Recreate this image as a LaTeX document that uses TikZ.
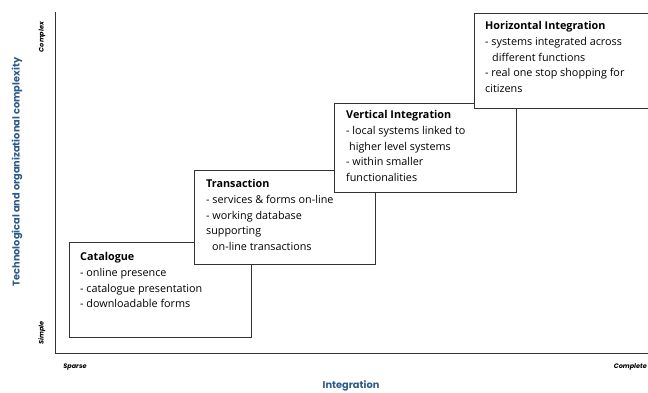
\documentclass[tikz,border=0pt]{standalone}
\usepackage{fontspec}
\setmainfont{Open Sans}
\newfontfamily\labfont{Poppins}
\definecolor{axisblue}{HTML}{2C5A8C}
\definecolor{linegray}{HTML}{333333}
\tikzset{
  stagebox/.style={draw=linegray, line width=0.9pt, fill=white, anchor=north west, inner sep=0pt},
  stagetext/.style={anchor=north west, align=left, inner sep=0pt, font=\fontsize{10.8}{15.8}\selectfont, text=black},
  axislabel/.style={font=\labfont\bfseries\fontsize{9.8}{11}\selectfont, text=axisblue},
  endlabel/.style={font=\labfont\bfseries\itshape\fontsize{6.5}{8}\selectfont, text=black},
  axisline/.style={draw=linegray, line width=0.9pt}
}
\begin{document}
\begin{tikzpicture}[x=1pt,y=-1pt]
\useasboundingbox (0,0) rectangle (648,392);
% axes
\coordinate (ytop) at (55,12);
\coordinate (orig) at (55,353);
\coordinate (xend) at (649,353);
\draw[axisline] (ytop) -- (orig) -- (xend);
% axis labels
\node[axislabel, rotate=90] (ylab) at (17,172) {Technological and organizational complexity};
\node[axislabel] (xlab) at (351,386) {Integration};
\node[endlabel, rotate=90] (complex) at (42,37) {Complex};
\node[endlabel, rotate=90] (simple) at (42,333) {Simple};
\node[endlabel] (sparse) at (75,367) {Sparse};
\node[endlabel, anchor=east, inner sep=0pt] (complete) at (647,367) {Complete};
% boxes
\node[stagebox, minimum width=182pt, minimum height=95pt] (cat) at (69,242) {};
\node[stagetext] (cattxt) at ([shift={(11pt,-10pt)}]cat.north west) {\textbf{Catalogue}\\- online presence\\- catalogue presentation\\- downloadable forms};
\node[stagebox, minimum width=181pt, minimum height=94pt] (tra) at (194,170) {};
\node[stagetext] (tratxt) at ([shift={(12pt,-9pt)}]tra.north west) {\textbf{Transaction}\\- services \& forms on-line\\- working database\\supporting\\\hspace*{6pt}on-line transactions};
\node[stagebox, minimum width=182pt, minimum height=89pt] (ver) at (334,103) {};
\node[stagetext] (vertxt) at ([shift={(12pt,-7pt)}]ver.north west) {\textbf{Vertical Integration}\\- local systems linked to\\\hspace*{3pt}higher level systems\\- within smaller\\functionalities};
\node[stagebox, minimum width=180pt, minimum height=95pt] (hor) at (474,13) {};
\node[stagetext] (hortxt) at ([shift={(11pt,-8pt)}]hor.north west) {\textbf{Horizontal Integration}\\- systems integrated across\\\hspace*{7pt}different functions\\- real one stop shopping for\\citizens};
\end{tikzpicture}
\end{document}
